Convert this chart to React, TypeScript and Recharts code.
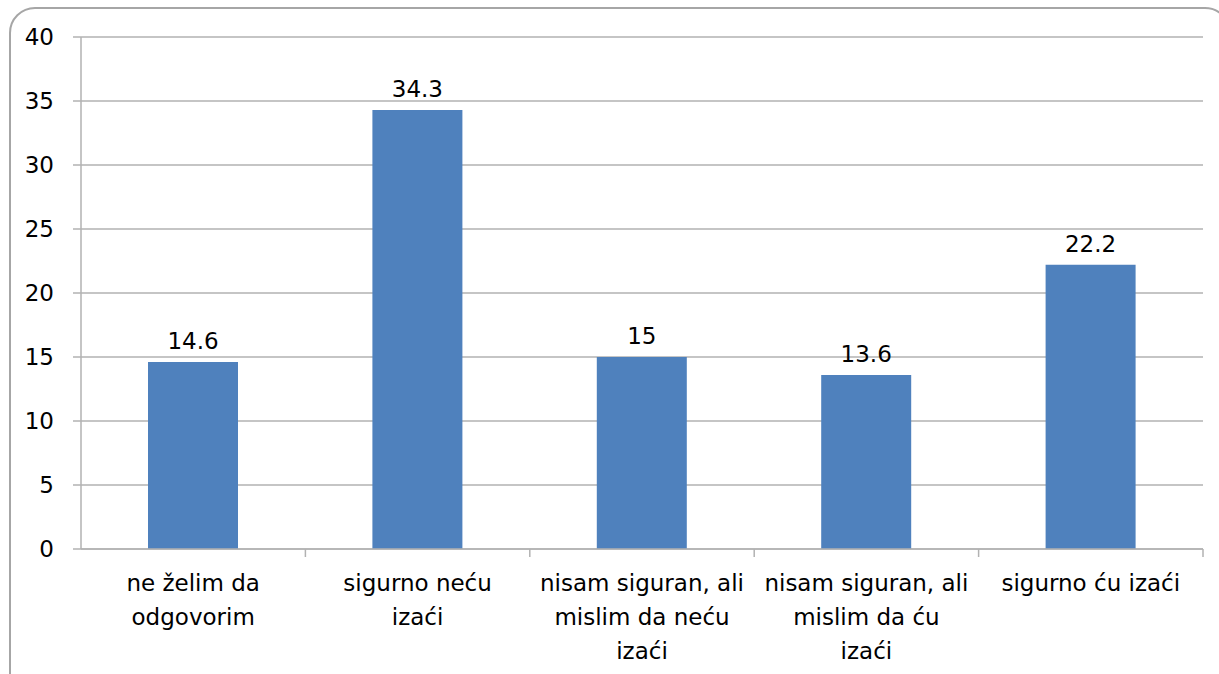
import { BarChart, Bar, XAxis, YAxis, CartesianGrid, LabelList } from "recharts"

const categoryLines = [
  ["ne želim da", "odgovorim"],
  ["sigurno neću", "izaći"],
  ["nisam siguran, ali", "mislim da neću", "izaći"],
  ["nisam siguran, ali", "mislim da ću", "izaći"],
  ["sigurno ću izaći"],
]
const categories = categoryLines.map((l) => l.join(" "))
const values = [14.6, 34.3, 15, 13.6, 22.2]
const yTicks = [0, 5, 10, 15, 20, 25, 30, 35, 40]

const data = categories.map((name, i) => ({ name, value: values[i] }))

const FONT = "'DejaVu Sans', sans-serif"
const FS = 23
const GRID = "#b2b2b2"
const W = 1219
const H = 674
const M = { top: 37, right: 16, left: 21, bottom: 15 }
const Y_WIDTH = 60
const band = (W - M.left - Y_WIDTH - M.right) / categories.length

const CategoryTick = (props: any) => {
  const { x, y, index } = props
  const lines = categoryLines[index] || []
  return (
    <g>
      <line x1={x + band / 2} y1={y - 8} x2={x + band / 2} y2={y} stroke={GRID} strokeWidth={1.5} />
      <text x={x} y={y + 34} textAnchor="middle" fontSize={FS} fontFamily={FONT} fill="#000">
        {lines.map((l, i) => (
          <tspan key={i} x={x} dy={i === 0 ? 0 : 34}>
            {l}
          </tspan>
        ))}
      </text>
    </g>
  )
}

export default function App() {
  return (
    <div style={{ position: "fixed", left: 0, top: 0, width: W, height: H, overflow: "hidden", background: "#fff" }}>
      <div
        style={{
          position: "absolute",
          left: 9,
          top: 7,
          width: 1218,
          height: 700,
          border: "2px solid #a6a6a6",
          borderRadius: 26,
        }}
      />
      <div style={{ position: "absolute", left: 0, top: 0 }}>
        <BarChart width={W} height={H} data={data} margin={M} barCategoryGap="30%">
          <CartesianGrid vertical={false} stroke={GRID} strokeWidth={1.5} />
          <XAxis
            dataKey="name"
            interval={0}
            height={110}
            stroke={GRID}
            strokeWidth={1.5}
            tickLine={false}
            tick={<CategoryTick />}
          />
          <YAxis
            width={Y_WIDTH}
            domain={[0, 40]}
            ticks={yTicks}
            interval={0}
            stroke={GRID}
            strokeWidth={1.5}
            tickSize={8}
            tickMargin={19}
            tick={{ fill: "#000", fontSize: FS, fontFamily: FONT }}
          />
          <Bar dataKey="value" fill="#4f81bd" barSize={90} isAnimationActive={false}>
            <LabelList dataKey="value" position="top" offset={13} fill="#000" fontSize={FS} fontFamily={FONT} />
          </Bar>
        </BarChart>
      </div>
    </div>
  )
}
